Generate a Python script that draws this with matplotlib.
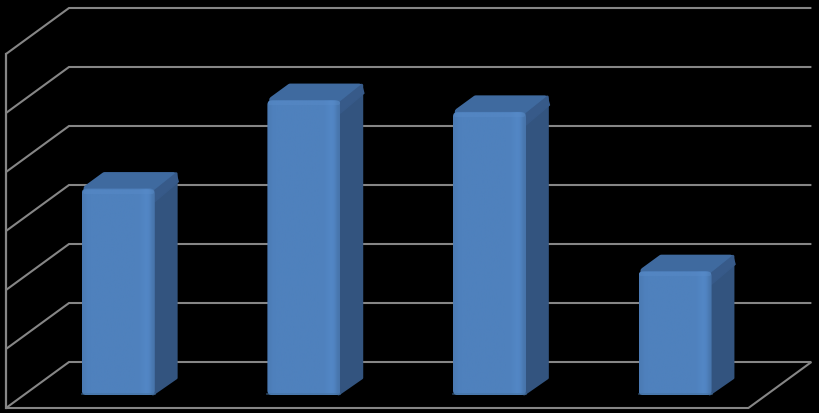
"""Oblique 3D-style column chart on a black background, no labels."""

import numpy as np
import matplotlib
matplotlib.use("Agg")
import matplotlib.pyplot as plt
from matplotlib.patches import Polygon, FancyBboxPatch

# one grid step = 1 unit
categories = [0, 1, 2, 3]
values = [3.5, 5.0, 4.8, 2.1]
grid_levels = [0, 1, 2, 3, 4, 5, 6]

PX_X = 185.6
PX_Y = 59.0
BACK_X = 63 / PX_X
BACK_Y = 46 / PX_Y
BAR_W = 73 / PX_X
GRID = "#868686"


def project(x, y, depth):
    """Oblique projection, depth 0 is the front of the floor and 1 the back wall."""
    return x + depth * BACK_X, y + depth * BACK_Y


def draw_bar(ax, cat, value):
    x0 = cat + 0.51 - BAR_W / 2
    x1 = x0 + BAR_W
    d0, d1 = 0.28, 0.64

    # side face, round edge softens the far corners
    side = [project(x1 - 0.01, 0.02, d0), project(x1 - 0.004, 0.02, d1 - 0.01),
            project(x1 - 0.004, value - 0.02, d1 - 0.01), project(x1 - 0.01, value - 0.04, d0)]
    ax.add_patch(Polygon(side, closed=True, fc="#33547f", ec="#33547f", lw=2.2, joinstyle="round", zorder=3))

    # top face, thick round edge gives the soft corners
    top = [project(x0 + 0.018, value - 0.02, d0 + 0.03), project(x1 - 0.004, value - 0.02, d0 + 0.03),
           project(x1 - 0.004, value - 0.02, d1 - 0.05), project(x0 + 0.018, value - 0.02, d1 - 0.05)]
    ax.add_patch(Polygon(top, closed=True, fc="#3f6a9f", ec="#3f6a9f", lw=5, joinstyle="round", zorder=4))
    # darker bevel towards the side
    corner = [project(x1, value - 0.03, d0), project(x1 + 0.002, value, d1 - 0.03),
              project(x1 + 0.006, value - 0.16, d1 - 0.005), project(x1, value - 0.22, d0)]
    ax.add_patch(Polygon(corner, closed=True, fc="#375a89", ec="#375a89", lw=1, joinstyle="round", zorder=5))

    # front face with a soft horizontal gradient towards the edges
    fx0, fy0 = project(x0, 0, d0)
    fx1, fy1 = project(x1, value, d0)
    stops = [0.95, 1, 1, 1, 1, 1, 1, 1, 1, 1, 1, 1, 1, 1, 1, 1, 1.02, 1.05, 1.03, 0.9]
    base = np.array([0x4f, 0x81, 0xbd]) / 255
    row = np.array([np.clip(base * t, 0, 1) for t in stops])
    img = ax.imshow(row[np.newaxis, :, :], extent=(fx0, fx1, fy0, fy1), aspect="auto",
                    interpolation="bicubic", zorder=6)
    clip = FancyBboxPatch((fx0, fy0), fx1 - fx0, fy1 - fy0,
                          boxstyle="round,pad=0,rounding_size=0.025",
                          mutation_aspect=PX_X / PX_Y, fc="none", ec="none", transform=ax.transData)
    ax.add_patch(clip)
    img.set_clip_path(clip)

    # lighter strip under the top edge and dark line at the foot
    ax.plot([fx0 + 0.015, fx1 - 0.015], [fy1 - 0.05, fy1 - 0.05], color="#5a8dcb", lw=3, alpha=0.4,
            solid_capstyle="round", zorder=7)
    ax.plot([fx0, fx1], [fy0 + 0.012, fy0 + 0.012], color="#44719f", lw=1.2, alpha=0.6, zorder=7)


fig = plt.figure(figsize=(8.2, 4.14), dpi=100, facecolor="black")
ax = fig.add_axes([0, 0, 1, 1], facecolor="black")
ax.set_xlim(-6 / PX_X, 814 / PX_X)
ax.set_ylim(-5 / PX_Y, 409 / PX_Y)
ax.axis("off")

# walls: grid line on the back wall plus its diagonal on the side wall
n_cats = len(categories)
for level in grid_levels:
    x_back, y_back = project(0, level, 1)
    x_end, _ = project(n_cats, level, 1)
    ax.plot([0, x_back, x_end], [level, y_back, y_back], color=GRID, lw=1.5,
            solid_joinstyle="miter", solid_capstyle="butt", zorder=1)

# front of the floor, right floor edge and the vertical axis
x_end, y_end = project(n_cats, 0, 1)
ax.plot([0, n_cats, x_end], [0, 0, y_end], color=GRID, lw=1.5, solid_capstyle="butt", zorder=1)
ax.plot([0, 0], [0, grid_levels[-1]], color=GRID, lw=1.6, solid_capstyle="projecting", zorder=1)

for cat, value in zip(categories, values):
    draw_bar(ax, cat, value)

ax.set_xlim(-6 / PX_X, 814 / PX_X)
ax.set_ylim(-5 / PX_Y, 409 / PX_Y)
fig.savefig("out.png", dpi=100, facecolor="black")
